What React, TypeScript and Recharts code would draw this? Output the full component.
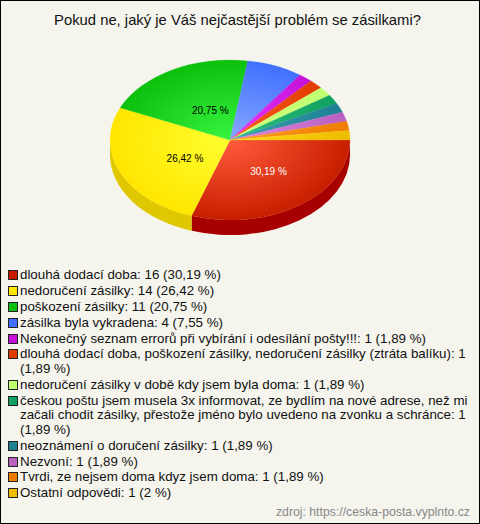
import { Legend, Pie, PieChart } from 'recharts';

const categories = [
  'dlouhá dodací doba',
  'nedoručení zásilky',
  'poškození zásilky',
  'zásilka byla vykradena',
  'Nekonečný seznam errorů při vybírání i odesílání pošty!!!',
  'dlouhá dodací doba, poškození zásilky, nedoručení zásilky (ztráta balíku)',
  'nedoručení zásilky v době kdy jsem byla doma',
  'českou poštu jsem musela 3x informovat, ze bydlím na nové adrese, než mi začali chodit zásilky, přestože jméno bylo uvedeno na zvonku a schránce',
  'neoznámení o doručení zásilky',
  'Nezvoní',
  'Tvrdi, ze nejsem doma kdyz jsem doma',
  'Ostatní odpovědi',
];
const counts = [16, 14, 11, 4, 1, 1, 1, 1, 1, 1, 1, 1];
const percents = ['30,19', '26,42', '20,75', '7,55', '1,89', '1,89', '1,89', '1,89', '1,89', '1,89', '1,89', '2'];

const swatchColors = ['#c81e00', '#ffe600', '#0cc00c', '#4070ff', '#c412d8', '#e23c00', '#c0ff70', '#10a060', '#1f8094', '#b860c0', '#ee7c00', '#eebc00'];
const lightColors = ['#ff5c3c', '#ffff30', '#38f440', '#88a8ff', '#e838ff', '#ff5c20', '#d0ff80', '#30c080', '#38a0b0', '#e088e0', '#ffa020', '#ffd820'];
const wallColors = ['#a80000', '#e0c800', '#0a9a0a', '#3058cc', '#9c0eac', '#b43000', '#9acc5a', '#0c804c', '#186676', '#934c9a', '#be6300', '#be9600'];

const labelShown = [true, true, true];
const labelTextColors = ['#ffffff', '#000000', '#000000'];
// the labels sit a bit off the mid line of the slice, so x and y get their own factor
const labelRadiusX = [0.55, 0.41, 0.34];
const labelRadiusY = [0.477, 0.566, 0.428];

const tableData = categories.map((name, i) => ({ name, value: counts[i] }));

const WIDTH = 480;
const HEIGHT = 524;
const CX = 230;
const CY = 140;
const RX = 120;
const RY = 80;
const DEPTH = 15;

const pt = (deg: number, dy = 0) => {
  const t = (deg * Math.PI) / 180;
  return `${(CX + RX * Math.cos(t)).toFixed(2)} ${(CY + dy + RY * Math.sin(t)).toFixed(2)}`;
};

// recharts angles run counter-clockwise, the picture is squashed so the arcs are drawn by hand
const TopSlice = (props: any) => {
  const a = -props.startAngle;
  const b = -props.endAngle;
  const large = b - a > 180 ? 1 : 0;
  const d = `M${CX} ${CY}L${pt(a)}A${RX} ${RY} 0 ${large} 1 ${pt(b)}Z`;
  return <path d={d} fill={`url(#slice${props.index})`} stroke={`url(#slice${props.index})`} strokeWidth={0.3} />;
};

const WallSlice = (props: any) => {
  const a = Math.max(-props.startAngle, 0);
  const b = Math.min(-props.endAngle, 180);
  if (b <= a) return <g />;
  const d = `M${pt(a)}A${RX} ${RY} 0 0 1 ${pt(b)}L${pt(b, DEPTH)}A${RX} ${RY} 0 0 0 ${pt(a, DEPTH)}Z`;
  return <path d={d} fill={wallColors[props.index]} />;
};

const SliceLabel = (props: any) => {
  const i = props.index;
  if (!labelShown[i]) return null;
  const t = (-props.midAngle * Math.PI) / 180;
  return (
    <text
      x={CX + RX * labelRadiusX[i] * Math.cos(t)}
      y={CY + RY * labelRadiusY[i] * Math.sin(t)}
      textAnchor="middle"
      dominantBaseline="central"
      fontSize={10}
      fontFamily="'Liberation Sans', Arial, sans-serif"
      fill={labelTextColors[i]}
    >
      {percents[i]} %
    </text>
  );
};

const LegendList = () => (
  <div style={{ fontFamily: "'Liberation Sans', Arial, sans-serif", fontSize: 13.33, lineHeight: '14.5px', color: '#111' }}>
    {categories.map((name, i) => (
      <div key={name} style={{ position: 'relative', paddingLeft: 12, marginBottom: 1.4 }}>
        <span
          style={{
            position: 'absolute',
            left: 0,
            top: 2,
            width: 8,
            height: 8,
            border: '1px solid #222',
            background: swatchColors[i],
          }}
        />
        {name}: {counts[i]} ({percents[i]} %)
      </div>
    ))}
  </div>
);

export default function App() {
  return (
    <div
      style={{
        position: 'absolute',
        left: 0,
        top: 0,
        width: WIDTH,
        height: HEIGHT,
        boxSizing: 'border-box',
        border: '1px solid #000',
        background: '#f5f5ee',
      }}
    >
      <div style={{ position: 'absolute', left: -1, top: -1 }}>
        <PieChart width={WIDTH} height={HEIGHT} margin={{ top: 0, right: 0, bottom: 0, left: 0 }}>
          <defs>
            {categories.map((name, i) => (
              <radialGradient
                key={name}
                id={`slice${i}`}
                gradientUnits="userSpaceOnUse"
                cx={0}
                cy={0}
                r={1}
                gradientTransform={`translate(${CX} ${CY}) scale(${RX} ${RY})`}
              >
                <stop offset="0%" stopColor={lightColors[i]} />
                <stop offset="100%" stopColor={swatchColors[i]} />
              </radialGradient>
            ))}
          </defs>
          <text
            x={237.5}
            y={25}
            textAnchor="middle"
            fontSize={14.8}
            fontFamily="'Liberation Sans', Arial, sans-serif"
            fill="#111"
          >
            Pokud ne, jaký je Váš nejčastější problém se zásilkami?
          </text>
          <Pie
            data={tableData}
            dataKey="value"
            cx={CX}
            cy={CY}
            outerRadius={RX}
            startAngle={0}
            endAngle={-360}
            stroke="none"
            shape={WallSlice}
            isAnimationActive={false}
          />
          <Pie
            data={tableData}
            dataKey="value"
            cx={CX}
            cy={CY}
            outerRadius={RX}
            startAngle={0}
            endAngle={-360}
            stroke="none"
            shape={TopSlice}
            label={SliceLabel}
            labelLine={false}
            isAnimationActive={false}
          />
          <Legend
            content={LegendList}
            wrapperStyle={{ position: 'absolute', left: 8, top: 268, width: 466, height: 'auto', bottom: 'auto' }}
          />
          <text
            x={470}
            y={516}
            textAnchor="end"
            fontSize={12.25}
            fontFamily="'Liberation Sans', Arial, sans-serif"
            fill="#888888"
          >
            zdroj: https://ceska-posta.vyplnto.cz
          </text>
        </PieChart>
      </div>
    </div>
  );
}
